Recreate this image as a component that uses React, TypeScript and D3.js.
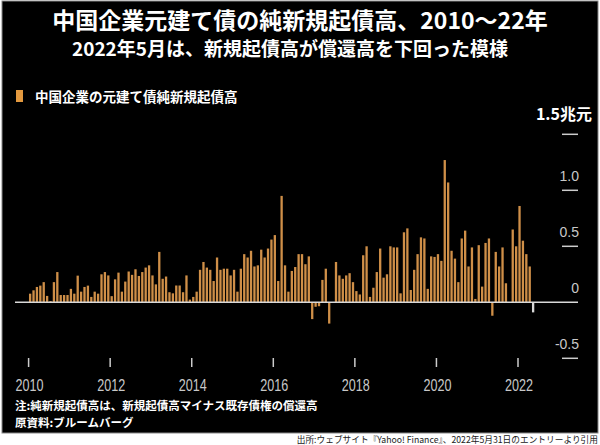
import React from "react";
import * as d3 from "d3";

// Monthly net new issuance of Chinese corporate yuan bonds (trillion yuan), Jan 2010 – May 2022
const v2010 = [0.077, 0.107, 0.137, 0.149, 0.18, 0.057, 0.01, 0.18, 0.27, 0.065, 0.065, 0.065];
const v2011 = [0.12, 0.077, 0.238, 0.095, 0.137, 0.149, 0.048, 0.095, 0.077, 0.25, 0.27, 0.24];
const v2012 = [0.055, 0.205, 0.265, 0.095, 0.185, 0.275, 0.245, 0.295, 0.235, 0.27, 0.31, 0.33];
const v2013 = [0.24, 0.16, 0.45, 0.21, 0.23, 0.09, 0.08, 0.15, 0.15, 0.09, 0.24, 0.024];
const v2014 = [0.048, 0.095, 0.29, 0.36, 0.31, 0.29, 0.19, 0.4, 0.29, 0.3, 0.3, 0.24];
const v2015 = [0.29, 0.095, 0.3, 0.43, 0.4, 0.46, 0.32, 0.33, 0.47, 0.4, 0.48, 0.56];
const v2016 = [0.6, 0.19, 0.95, 0.33, 0.095, 0.28, 0.315, 0.43, 0.43, 0.34, 0.41, -0.15];
const v2017 = [-0.04, -0.035, 0.2, 0.3, -0.19, 0.0, 0.36, 0.24, 0.21, 0.24, 0.26, 0.18];
const v2018 = [0.1, 0.07, 0.42, 0.5, 0.048, 0.13, 0.27, 0.48, 0.22, 0.25, 0.5, 0.49];
const v2019 = [0.49, 0.08, 0.625, 0.66, 0.11, 0.29, 0.43, 0.58, 0.57, 0.12, 0.41, 0.405];
const v2020 = [0.43, 0.37, 1.27, 1.07, 0.46, 0.39, 0.18, 0.57, 0.64, 0.32, 0.49, 0.03];
const v2021 = [0.51, 0.14, 0.53, 0.57, -0.12, 0.45, 0.32, 0.49, 0.17, 0.0, 0.65, 0.5];
const v2022 = [0.86, 0.55, 0.43, 0.32, -0.09];

const values = [
  ...v2010, ...v2011, ...v2012, ...v2013, ...v2014, ...v2015, ...v2016,
  ...v2017, ...v2018, ...v2019, ...v2020, ...v2021, ...v2022,
];

const xTickYears = [2010, 2012, 2014, 2016, 2018, 2020, 2022];
const yTickValues = [1.5, 1.0, 0.5, 0, -0.5];
const yTickLabels = ["1.5兆元", "1.0", "0.5", "0", "-0.5"];

const title = "中国企業元建て債の純新規起債高、2010～22年";
const subtitle = "2022年5月は、新規起債高が償還高を下回った模様";
const legendLabel = "中国企業の元建て債純新規起債高";
const note1 = "注:純新規起債高は、新規起債高マイナス既存債権の償還高";
const note2 = "原資料:ブルームバーグ";
const source = "出所:ウェブサイト『Yahoo! Finance』、2022年5月31日のエントリーより引用";

const CJK = "'Noto Sans CJK JP', 'Noto Sans', sans-serif";
const NUM = "'Liberation Sans', Arial, sans-serif";

export default function App() {
  const x = d3.scaleLinear().domain([0, 144]).range([28.6, 518]);
  const y = d3.scaleLinear().domain([-0.5, 1.5]).range([358.3, 134.3]);
  const barW = 2.3;
  const lastIdx = values.length - 1;

  return (
    <svg
      width={600}
      height={445}
      style={{ position: "absolute", left: 0, top: 0, display: "block" }}
    >
      <rect x={0} y={0} width={600} height={445} fill="#fff" />
      <rect x={2} y={1} width={596} height={432} fill="#000" stroke="#888" strokeWidth={1} />

      <text x={300} y={29} textAnchor="middle" fill="#fff" fontFamily={CJK} fontWeight={700} fontSize={23}>
        {title}
      </text>
      <text x={290} y={56} textAnchor="middle" fill="#fff" fontFamily={CJK} fontWeight={700} fontSize={19}>
        {subtitle}
      </text>

      <rect x={16} y={90} width={7} height={12} fill="#e3993f" />
      <text x={35} y={102} fill="#fff" fontFamily={CJK} fontWeight={700} fontSize={13.5}>
        {legendLabel}
      </text>

      {/* right axis */}
      {yTickValues.map((t, i) =>
        t !== 0 ? (
          <line key={"yl" + i} x1={562} x2={578} y1={y(t)} y2={y(t)} stroke="#ccc" strokeWidth={1.5} />
        ) : null
      )}
      {yTickValues.map((t, i) =>
        i === 0 ? (
          <text key={"yt" + i} x={592} y={y(t) - 14} textAnchor="end" fill="#fff" fontFamily={CJK} fontWeight={700} fontSize={16}>
            {yTickLabels[i]}
          </text>
        ) : (
          <text key={"yt" + i} x={579} y={y(t) - 9} textAnchor="end" fill="#c8c8c8" fontFamily={NUM} fontSize={14}>
            {yTickLabels[i]}
          </text>
        )
      )}

      {/* bars */}
      {values.map((v, i) => {
        const cx = x(i + 0.45);
        const y0 = y(0);
        const yv = y(v);
        return (
          <rect
            key={"b" + i}
            x={cx - barW / 2}
            y={Math.min(y0, yv)}
            width={barW}
            height={Math.abs(yv - y0)}
            fill={i === lastIdx ? "#d8d8d8" : "#cf8f48"}
          />
        );
      })}

      {/* zero baseline */}
      <line x1={15} x2={578} y1={y(0)} y2={y(0)} stroke="#d8d8d8" strokeWidth={1.5} />

      {/* x axis ticks & labels */}
      {xTickYears.map((yr) => {
        const tx = x((yr - 2010) * 12);
        return (
          <g key={"xt" + yr}>
            <line x1={tx} x2={tx} y1={358} y2={367} stroke="#ccc" strokeWidth={1.5} />
            <text
              x={tx + 1}
              y={391}
              textAnchor="middle"
              fill="#c8c8c8"
              fontFamily={NUM}
              fontSize={17}
              textLength={28}
              lengthAdjust="spacingAndGlyphs"
            >
              {String(yr)}
            </text>
          </g>
        );
      })}

      <text x={15} y={410} fill="#fff" fontFamily={CJK} fontWeight={700} fontSize={11.5}>
        {note1}
      </text>
      <text x={15} y={427} fill="#fff" fontFamily={CJK} fontWeight={700} fontSize={11.5}>
        {note2}
      </text>

      <text x={598} y={443} textAnchor="end" fill="#222" fontFamily={CJK} fontSize={8.7}>
        {source}
      </text>
    </svg>
  );
}
